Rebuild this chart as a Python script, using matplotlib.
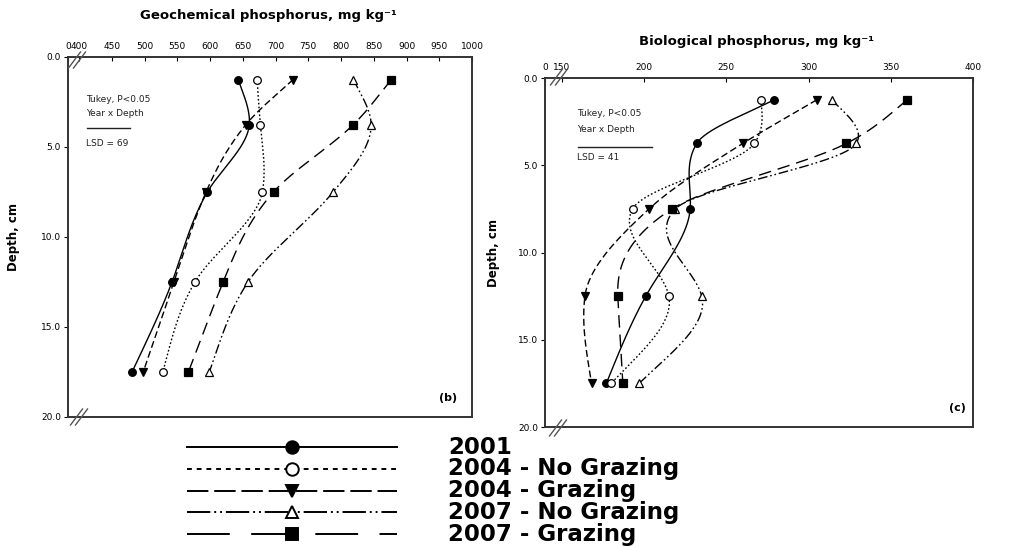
import numpy as np
import matplotlib
matplotlib.use("Agg")
import matplotlib.pyplot as plt

# ---------------- data ----------------
depths = [1.25, 3.75, 7.5, 12.5, 17.5]
series_names = ["2001", "2004 - No Grazing", "2004 - Grazing",
                "2007 - No Grazing", "2007 - Grazing"]

geo_2001 = [643, 660, 596, 542, 481]
geo_2004_ng = [672, 677, 680, 577, 528]
geo_2004_g = [727, 655, 594, 545, 498]
geo_2007_ng = [819, 846, 788, 658, 599]
geo_2007_g = [877, 819, 697, 620, 567]

bio_2001 = [279, 232, 228, 201, 177]
bio_2004_ng = [271, 267, 193, 215, 180]
bio_2004_g = [305, 260, 203, 164, 168]
bio_2007_ng = [314, 329, 219, 235, 197]
bio_2007_g = [360, 323, 217, 184, 187]

geo_ticks = [400, 450, 500, 550, 600, 650, 700, 750, 800, 850, 900, 950, 1000]
bio_ticks = [150, 200, 250, 300, 350, 400]
depth_ticks = [0.0, 5.0, 10.0, 15.0, 20.0]

# ---------------- styles ----------------
styles = [
    dict(ls="-", marker="o", mfc="black"),
    dict(ls=(0, (1.2, 1.6)), marker="o", mfc="white"),
    dict(ls=(0, (5, 2.5)), marker="v", mfc="black"),
    dict(ls=(0, (7, 2, 1.2, 2, 1.2, 2)), marker="^", mfc="white"),
    dict(ls=(0, (9, 5)), marker="s", mfc="black"),
]
legend_ls = ["-", (0, (2.5, 2.5)), (0, (11, 3)), (0, (12, 2, 1, 2, 1, 2)),
             (0, (22, 11))]

W, H = 1011, 547
fig = plt.figure(figsize=(W / 100, H / 100), dpi=100)


def natural_spline(x, y, xs):
    x = np.asarray(x, float)
    y = np.asarray(y, float)
    n = len(x)
    h = np.diff(x)
    A = np.zeros((n, n))
    b = np.zeros(n)
    A[0, 0] = 1
    A[-1, -1] = 1
    for i in range(1, n - 1):
        A[i, i - 1] = h[i - 1]
        A[i, i] = 2 * (h[i - 1] + h[i])
        A[i, i + 1] = h[i]
        b[i] = 3 * ((y[i + 1] - y[i]) / h[i] - (y[i] - y[i - 1]) / h[i - 1])
    c = np.linalg.solve(A, b)
    out = np.empty_like(xs)
    for k, xv in enumerate(xs):
        i = min(max(np.searchsorted(x, xv) - 1, 0), n - 2)
        dx = xv - x[i]
        bi = (y[i + 1] - y[i]) / h[i] - h[i] * (2 * c[i] + c[i + 1]) / 3
        di = (c[i + 1] - c[i]) / (3 * h[i])
        out[k] = y[i] + bi * dx + c[i] * dx ** 2 + di * dx ** 3
    return out


def pchip(x, y, xs):
    x = np.asarray(x, float)
    y = np.asarray(y, float)
    n = len(x)
    h = np.diff(x)
    d = np.diff(y) / h
    m = np.zeros(n)
    for i in range(1, n - 1):
        if d[i - 1] * d[i] > 0:
            w1 = 2 * h[i] + h[i - 1]
            w2 = h[i] + 2 * h[i - 1]
            m[i] = (w1 + w2) / (w1 / d[i - 1] + w2 / d[i])
    m[0] = d[0]
    m[-1] = d[-1]
    out = np.empty_like(xs)
    for k, xv in enumerate(xs):
        i = min(max(np.searchsorted(x, xv) - 1, 0), n - 2)
        t = (xv - x[i]) / h[i]
        h00 = 2 * t ** 3 - 3 * t ** 2 + 1
        h10 = t ** 3 - 2 * t ** 2 + t
        h01 = -2 * t ** 3 + 3 * t ** 2
        h11 = t ** 3 - t ** 2
        out[k] = h00 * y[i] + h10 * h[i] * m[i] + h01 * y[i + 1] + h11 * h[i] * m[i + 1]
    return out


def smooth(x, y, xs):
    return 0.5 * natural_spline(x, y, xs) + 0.5 * pchip(x, y, xs)


def panel(rect, series, xlim, ticks, zero_pos):
    ax = fig.add_axes(rect)
    dd = np.linspace(depths[0], depths[-1], 300)
    for vals, st in zip(series, styles):
        xs = smooth(depths, vals, dd)
        ax.plot(xs, dd, color="black", lw=1.0, ls=st["ls"], zorder=2)
        ax.plot(vals, depths, ls="none", marker=st["marker"], ms=5.5,
                mfc=st["mfc"], mec="black", mew=0.9, zorder=3)
    ax.set_xlim(*xlim)
    ax.set_ylim(20, 0)
    ax.xaxis.tick_top()
    ax.set_xticks([zero_pos] + ticks)
    ax.set_xticklabels(["0"] + [str(t) for t in ticks], fontsize=6.5)
    ax.set_yticks(depth_ticks)
    ax.set_yticklabels([f"{t:.1f}" for t in depth_ticks], fontsize=6.5)
    ax.tick_params(axis="x", direction="in", length=3, pad=4, width=0.8)
    ax.tick_params(axis="y", direction="out", length=3, pad=2, width=0.8)
    for s in ax.spines.values():
        s.set_color("#333333")
        s.set_linewidth(1.4)
    return ax


ax1 = panel([68 / W, 1 - 417 / H, (472 - 68) / W, (417 - 57) / H],
            [geo_2001, geo_2004_ng, geo_2004_g, geo_2007_ng, geo_2007_g],
            (383.2, 1000), geo_ticks, 383.2)
ax2 = panel([545 / W, 1 - 427 / H, (973 - 545) / W, (427 - 78) / H],
            [bio_2001, bio_2004_ng, bio_2004_g, bio_2007_ng, bio_2007_g],
            (139.7, 400), bio_ticks, 139.7)

ov = fig.add_axes([0, 0, 1, 1], facecolor="none")
ov.set_xlim(0, W)
ov.set_ylim(H, 0)
ov.axis("off")

tkw = dict(fontsize=6.5, va="center", ha="left", color="#222222")
ov.text(86, 100, "Tukey, P<0.05", **tkw)
ov.text(86, 113, "Year x Depth", **tkw)
ov.plot([87, 130], [128, 128], color="#222222", lw=1.0)
ov.text(86, 144, "LSD = 69", **tkw)

ov.text(577, 114, "Tukey, P<0.05", **tkw)
ov.text(577, 130, "Year x Depth", **tkw)
ov.plot([578, 652], [147, 147], color="#222222", lw=1.0)
ov.text(577, 158, "LSD = 41", **tkw)

ov.text(448, 398, "(b)", fontsize=8, fontweight="bold", ha="center", va="center")
ov.text(957, 408, "(c)", fontsize=8, fontweight="bold", ha="center", va="center")

# titles and y labels
ov.text(268, 16, "Geochemical phosphorus, mg kg\u207b\u00b9", fontsize=9.5,
        fontweight="bold", ha="center", va="center")
ov.text(757, 42, "Biological phosphorus, mg kg\u207b\u00b9", fontsize=9.5,
        fontweight="bold", ha="center", va="center")
ov.text(14, 237, "Depth, cm", fontsize=8.5, fontweight="bold", rotation=90,
        ha="center", va="center")
ov.text(494, 253, "Depth, cm", fontsize=8.5, fontweight="bold", rotation=90,
        ha="center", va="center")

# axis break marks
for cx, cy in [(77, 60), (559, 77), (79, 417), (558, 428)]:
    for off in (-2.5, 2.5):
        ov.plot([cx + off - 6, cx + off + 6], [cy + 8, cy - 8],
                color="#555555", lw=1.0, clip_on=False)

# legend
row_y = [447, 469, 491, 512, 534]
for yy, st, lls, name in zip(row_y, styles, legend_ls, series_names):
    ov.plot([187, 397], [yy, yy], color="black", lw=1.4, ls=lls)
    ov.plot([292], [yy], ls="none", marker=st["marker"], ms=9,
            mfc=st["mfc"], mec="black", mew=1.4)
    ov.text(448, yy, name, fontsize=16.5, fontweight="bold",
            ha="left", va="center", family="DejaVu Sans")

fig.savefig("out.png", dpi=100)
